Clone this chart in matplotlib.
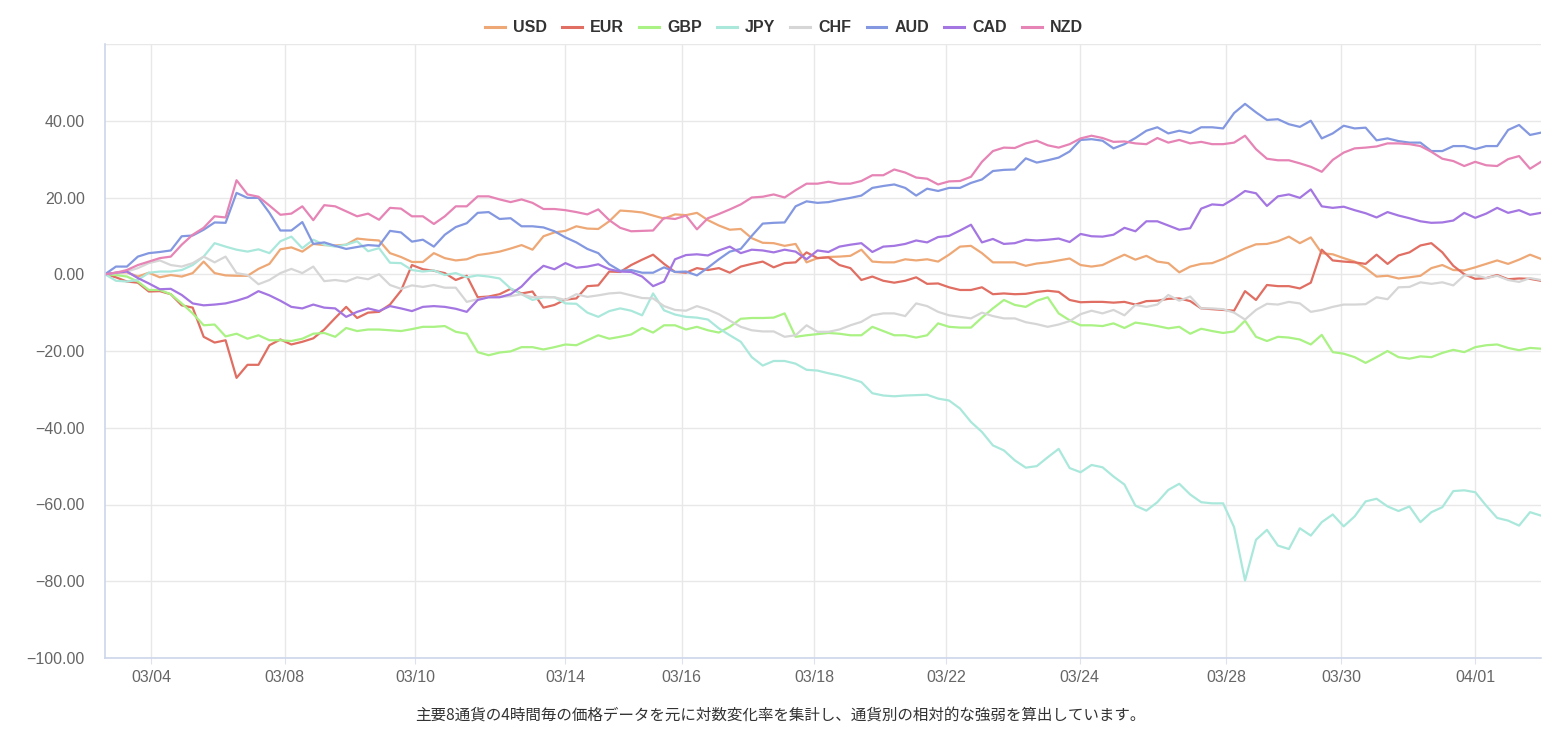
import numpy as np
import matplotlib
matplotlib.use("Agg")
import matplotlib.pyplot as plt

# 4時間足ベースの通貨強弱 (累積対数変化率)
currencies = ["USD", "EUR", "GBP", "JPY", "CHF", "AUD", "CAD", "NZD"]
colors = ["#eea876", "#e06e62", "#a9f283", "#aae8dc", "#d6d6d6", "#8398e0", "#a476e2", "#e684b6"]

USD = [0, 0.4, 0.5, -0.6, 0.4, -0.8, -0.2, -0.6, 0.3, 3.3, 0.3, -0.3, -0.4, -0.4, 1.4, 2.7, 6.5,
       7.0, 5.9, 7.9, 7.6, 7.5, 7.7, 9.3, 9.0, 8.8, 5.5, 4.5, 3.2, 3.2, 5.5, 4.2, 3.6,
       3.9, 5.0, 5.4, 5.9, 6.7, 7.6, 6.4, 9.9, 10.9, 11.3, 12.5, 11.9, 11.8, 13.8, 16.6, 16.4,
       16.1, 15.3, 14.5, 15.6, 15.4, 16.0, 14.1, 12.7, 11.6, 11.8, 9.4, 8.2, 8.1, 7.4, 7.9, 3.1, 4.2,
       4.5, 4.6, 4.8, 6.4, 3.3, 3.1, 3.1, 3.9, 3.6, 3.9, 3.3, 5.1, 7.2, 7.4, 5.5, 3.1, 3.1,
       3.1, 2.2, 2.8, 3.1, 3.6, 4.1, 2.4, 2.0, 2.4, 3.8, 5.1, 3.8, 4.8, 3.3, 2.9, 0.5, 2.0,
       2.7, 2.9, 4.0, 5.4, 6.7, 7.8, 7.9, 8.6, 9.8, 8.1, 9.6, 5.5, 5.2, 4.2, 3.3,
       1.6, -0.6, -0.4, -1.1, -0.8, -0.4, 1.6, 2.4, 1.1, 1.0, 1.8, 2.7, 3.6, 2.7, 3.8, 5.1, 4.0]
EUR = [0, -0.8, -1.9, -2.2, -4.5, -4.4, -5.2, -8.1, -8.7, -16.3, -17.8, -17.2, -27.0, -23.6, -23.6, -18.5, -17.0,
       -18.3, -17.6, -16.7, -14.4, -11.4, -8.5, -11.4, -10.0, -9.8, -7.9, -4.3, 2.4, 1.3, 0.9, 0.3, -1.5,
       -0.4, -6.0, -5.8, -5.2, -3.8, -5.0, -4.5, -8.7, -8.0, -6.6, -6.3, -3.1, -2.9, 0.7, 0.6, 2.4,
       3.8, 5.1, 2.7, 0.6, 0.4, 1.6, 1.1, 1.6, 0.4, 2.0, 2.7, 3.3, 1.8, 2.9, 3.1, 5.7, 4.2,
       4.4, 2.4, 1.6, -1.5, -0.6, -1.7, -2.2, -1.7, -0.8, -2.5, -2.4, -3.4, -4.1, -4.1, -3.4, -5.2, -5.0,
       -5.2, -5.1, -4.6, -4.3, -4.6, -6.7, -7.3, -7.2, -7.2, -7.4, -7.2, -7.9, -7.0, -6.9, -6.4, -6.3, -7.0,
       -8.9, -9.1, -9.3, -9.5, -4.4, -6.7, -2.8, -3.1, -3.1, -3.7, -2.2, 6.4, 3.6, 3.3, 3.1,
       2.7, 5.1, 2.7, 4.9, 5.7, 7.5, 8.1, 5.7, 2.2, 0, -1.2, -1.0, -0.2, -1.3, -1.1, -1.2, -1.7]
GBP = [0, -0.2, -0.6, -1.9, -4.1, -4.1, -5.2, -7.6, -10.2, -13.3, -13.1, -16.2, -15.5, -16.8, -15.9, -17.2, -17.2,
       -17.4, -16.8, -15.5, -15.3, -16.3, -14.0, -14.8, -14.4, -14.4, -14.6, -14.8, -14.3, -13.7, -13.7, -13.5, -15.0,
       -15.5, -20.3, -21.1, -20.4, -20.1, -19.0, -19.0, -19.6, -19.0, -18.3, -18.5, -17.2, -15.9, -16.8, -16.3, -15.7,
       -14.0, -15.2, -13.3, -13.3, -14.4, -13.7, -14.6, -15.2, -13.7, -11.6, -11.4, -11.4, -11.3, -10.2, -16.3, -15.9, -15.6,
       -15.3, -15.5, -15.9, -15.9, -13.7, -14.8, -15.9, -15.9, -16.5, -15.9, -12.8, -13.7, -13.9, -13.9, -11.3, -8.9, -6.7,
       -8.0, -8.5, -6.9, -6.0, -10.2, -12.0, -13.3, -13.3, -13.5, -12.8, -14.0, -12.6, -13.0, -13.5, -14.1, -13.7, -15.5,
       -14.2, -14.8, -15.3, -14.9, -12.1, -16.3, -17.4, -16.3, -16.5, -17.0, -18.3, -15.8, -20.3, -20.7, -21.6,
       -23.1, -21.6, -20.0, -21.6, -22.0, -21.4, -21.6, -20.5, -19.7, -20.3, -19.0, -18.5, -18.3, -19.2, -19.8, -19.2, -19.4]
JPY = [0, -1.7, -1.9, -1.5, 0.4, 0.7, 0.7, 1.1, 2.4, 4.6, 8.1, 7.2, 6.4, 5.9, 6.5, 5.5, 8.6,
       9.8, 6.8, 9.0, 7.7, 7.2, 7.7, 8.6, 6.0, 6.8, 3.0, 2.9, 1.1, 0.7, 1.0, -0.2, 0.3,
       -0.8, -0.3, -0.6, -1.1, -3.7, -5.2, -6.7, -6.0, -6.0, -7.6, -7.7, -10.0, -11.1, -9.6, -8.9, -9.5,
       -10.7, -5.0, -9.4, -10.5, -11.1, -11.3, -11.8, -14.1, -15.9, -17.6, -21.6, -23.8, -22.6, -22.6, -23.3, -24.9, -25.1,
       -25.8, -26.4, -27.2, -28.1, -31.0, -31.6, -31.8, -31.6, -31.5, -31.4, -32.4, -32.9, -35.0, -38.5, -41.1, -44.6, -45.9,
       -48.5, -50.4, -50.0, -47.7, -45.5, -50.5, -51.6, -49.7, -50.3, -52.7, -54.8, -60.3, -61.6, -59.4, -56.2, -54.6, -57.4,
       -59.4, -59.7, -59.7, -65.9, -79.8, -69.2, -66.6, -70.7, -71.6, -66.2, -68.1, -64.6, -62.6, -65.7, -63.1,
       -59.2, -58.5, -60.5, -61.7, -60.5, -64.6, -62.0, -60.7, -56.5, -56.3, -56.8, -60.3, -63.5, -64.2, -65.5, -62.0, -62.9]
CHF = [0, 0.3, 0.7, 1.6, 2.9, 3.6, 2.4, 2.0, 2.9, 4.6, 3.1, 4.6, 0.3, -0.2, -2.6, -1.5, 0.3,
       1.4, 0.3, 2.0, -1.8, -1.5, -1.9, -0.8, -1.3, 0, -2.8, -3.8, -2.9, -3.3, -2.8, -3.5, -3.5,
       -7.2, -6.5, -6.0, -5.9, -5.7, -5.2, -6.0, -5.9, -6.0, -6.7, -5.2, -5.9, -5.5, -5.0, -4.8, -5.5,
       -6.2, -6.3, -8.3, -9.3, -9.5, -8.3, -9.2, -10.4, -12.1, -13.7, -14.6, -14.9, -14.9, -16.3, -15.9, -13.3, -15.0,
       -15.0, -14.4, -13.3, -12.4, -10.7, -10.2, -10.2, -10.9, -7.6, -8.3, -9.8, -10.7, -11.1, -11.5, -10.0, -10.9, -11.5,
       -11.5, -12.5, -13.0, -13.7, -13.1, -12.2, -10.4, -9.5, -10.2, -9.3, -10.7, -8.0, -8.5, -7.9, -5.4, -6.9, -5.8,
       -8.9, -8.9, -9.1, -10.0, -11.8, -9.3, -7.7, -7.9, -7.2, -7.6, -9.8, -9.3, -8.5, -7.9, -7.9,
       -7.8, -6.0, -6.5, -3.4, -3.3, -2.1, -2.5, -2.1, -2.9, -0.3, -0.2, -1.0, -0.4, -1.5, -2.0, -1.0, -1.5]
AUD = [0, 2.0, 2.0, 4.6, 5.5, 5.8, 6.2, 9.9, 10.1, 11.6, 13.5, 13.4, 21.2, 19.9, 19.9, 16.0, 11.4,
       11.4, 13.6, 7.9, 8.3, 7.4, 6.6, 7.1, 7.6, 7.4, 11.3, 10.9, 8.5, 9.0, 7.2, 10.3, 12.3,
       13.3, 16.0, 16.2, 14.4, 14.6, 12.5, 12.5, 12.2, 11.2, 9.6, 8.3, 6.6, 5.5, 2.6, 0.9, 1.1,
       0.4, 0.4, 1.8, 0.6, 0.7, -0.3, 1.7, 3.9, 5.9, 6.6, 10.0, 13.2, 13.4, 13.5, 17.7, 19.0, 18.6,
       18.8, 19.4, 19.9, 20.5, 22.5, 23.0, 23.4, 22.5, 20.5, 22.3, 21.7, 22.5, 22.5, 23.8, 24.7, 26.9, 27.2,
       27.3, 30.2, 29.1, 29.7, 30.4, 32.0, 35.0, 35.2, 34.8, 32.8, 33.9, 35.5, 37.4, 38.3, 36.7, 37.4, 36.8,
       38.3, 38.3, 38.0, 42.0, 44.4, 42.2, 40.2, 40.4, 39.1, 38.4, 40.0, 35.4, 36.7, 38.7, 38.0,
       38.2, 34.9, 35.4, 34.7, 34.3, 34.3, 32.1, 32.1, 33.4, 33.4, 32.6, 33.4, 33.4, 37.6, 38.9, 36.3, 36.9]
CAD = [0, 0.4, 0.7, -1.0, -2.4, -3.9, -3.8, -5.4, -7.6, -8.1, -7.9, -7.6, -6.9, -6.0, -4.4, -5.5, -6.9,
       -8.5, -8.9, -7.9, -8.7, -8.9, -11.1, -9.8, -8.9, -9.6, -8.3, -8.9, -9.6, -8.5, -8.3, -8.5, -9.0,
       -9.8, -6.7, -6.0, -6.0, -5.2, -3.2, -0.2, 2.2, 1.3, 2.9, 1.7, 2.0, 2.6, 1.3, 0.7, 0.6,
       -0.6, -3.1, -1.9, 3.9, 5.0, 5.2, 4.9, 6.2, 7.2, 5.5, 6.4, 6.2, 5.7, 6.4, 5.9, 3.9, 6.2,
       5.8, 7.2, 7.7, 8.1, 5.8, 7.2, 7.4, 7.9, 8.8, 8.3, 9.7, 10.0, 11.4, 12.9, 8.3, 9.2, 7.9,
       8.1, 9.0, 8.8, 9.0, 9.3, 8.4, 10.5, 9.9, 9.8, 10.3, 12.1, 11.2, 13.8, 13.8, 12.7, 11.6, 12.0,
       17.1, 18.2, 18.0, 19.7, 21.7, 21.1, 17.8, 20.3, 20.8, 19.9, 22.1, 17.7, 17.3, 17.6, 16.7,
       15.9, 14.8, 16.2, 15.3, 14.6, 13.8, 13.4, 13.5, 14.0, 16.0, 14.7, 15.8, 17.3, 16.0, 16.7, 15.5, 16.0]
NZD = [0, 0.4, 1.1, 2.4, 3.3, 4.2, 4.6, 7.7, 10.3, 12.1, 15.1, 14.8, 24.5, 20.8, 20.2, 17.9, 15.5,
       15.8, 17.7, 14.1, 18.0, 17.7, 16.4, 15.1, 15.8, 14.2, 17.3, 17.1, 15.1, 15.1, 13.1, 15.1, 17.7,
       17.7, 20.3, 20.3, 19.5, 18.8, 19.5, 18.6, 17.0, 17.0, 16.7, 16.2, 15.6, 16.9, 14.1, 12.1, 11.2,
       11.3, 11.4, 14.7, 14.4, 15.3, 11.7, 14.6, 15.7, 16.9, 18.2, 20.0, 20.2, 20.8, 20.0, 21.9, 23.6, 23.6,
       24.1, 23.6, 23.6, 24.3, 25.8, 25.8, 27.3, 26.5, 25.2, 24.9, 23.4, 24.2, 24.3, 25.4, 29.3, 32.1, 33.0,
       32.9, 34.1, 34.8, 33.6, 33.0, 33.9, 35.4, 36.1, 35.5, 34.5, 34.6, 34.1, 33.9, 35.5, 34.3, 35.0, 34.1,
       34.5, 33.9, 33.9, 34.3, 36.1, 32.6, 30.1, 29.7, 29.7, 28.9, 28.0, 26.7, 29.8, 31.7, 32.8,
       33.0, 33.3, 34.1, 34.1, 33.9, 33.4, 31.9, 30.1, 29.5, 28.2, 29.3, 28.4, 28.2, 30.0, 30.8, 27.5, 29.3]

# ラベル位置はカテゴリ番号 (4時間足のインデックス)
tick_pos = [4.2, 16.4, 28.3, 42.0, 52.6, 64.7, 76.7, 88.9, 102.3, 112.8, 125.0]
tick_labels = ["03/04", "03/08", "03/10", "03/14", "03/16", "03/18", "03/22", "03/24", "03/28", "03/30", "04/01"]
y_ticks = [-100, -80, -60, -40, -20, 0, 20, 40, 60]
caption = "主要8通貨の4時間毎の価格データを元に対数変化率を集計し、通貨別の相対的な強弱を算出しています。"

series = [USD, EUR, GBP, JPY, CHF, AUD, CAD, NZD]

plt.rcParams["font.family"] = ["Liberation Sans", "DejaVu Sans"]

fig = plt.figure(figsize=(15.64, 7.40), dpi=100)
ax = fig.add_axes([105 / 1564, 1 - 658 / 740, (1541 - 105) / 1564, (658 - 44) / 740])

x = np.arange(len(USD))
lines = []
for name, vals, c in zip(currencies, series, colors):
    ln, = ax.plot(x, vals, color=c, lw=1.6, label=name, solid_joinstyle="round")
    lines.append(ln)

ax.set_xlim(0, len(USD) - 1)
ax.set_ylim(-100, 60)
ax.set_yticks(y_ticks)
# 最大値(60)のラベルは表示しない
ax.set_yticklabels([f"{v:.2f}".replace("-", "\u2212") if v < max(y_ticks) else "" for v in y_ticks])
ax.set_xticks(tick_pos)
ax.set_xticklabels(tick_labels)

ax.grid(True, color="#e8e8e8", lw=1)
ax.set_axisbelow(True)
for s in ["top", "right"]:
    ax.spines[s].set_visible(False)
for s in ["left", "bottom"]:
    ax.spines[s].set_color("#ccd6eb")
    ax.spines[s].set_linewidth(1.2)

ax.tick_params(axis="y", length=0, pad=14.5, labelsize=11.5, labelcolor="#666666")
ax.tick_params(axis="x", length=4, color="#dde3ee", pad=4.5, labelsize=11.5, labelcolor="#666666")

leg = fig.legend(lines, currencies, loc="center", bbox_to_anchor=(784 / 1564, 1 - 28 / 740),
                 ncol=8, frameon=False, handlelength=1.25, handletextpad=0.5, columnspacing=0.95,
                 prop={"weight": "bold", "size": 11.5})
for t in leg.get_texts():
    t.set_color("#333333")
for h in leg.get_lines():
    h.set_linewidth(2.2)

fig.text(780 / 1564, 1 - 715 / 740, caption, ha="center", va="center", fontsize=11.2, color="#333333",
         family=["Noto Sans CJK JP", "DejaVu Sans"])

fig.savefig("out.png", dpi=100)
